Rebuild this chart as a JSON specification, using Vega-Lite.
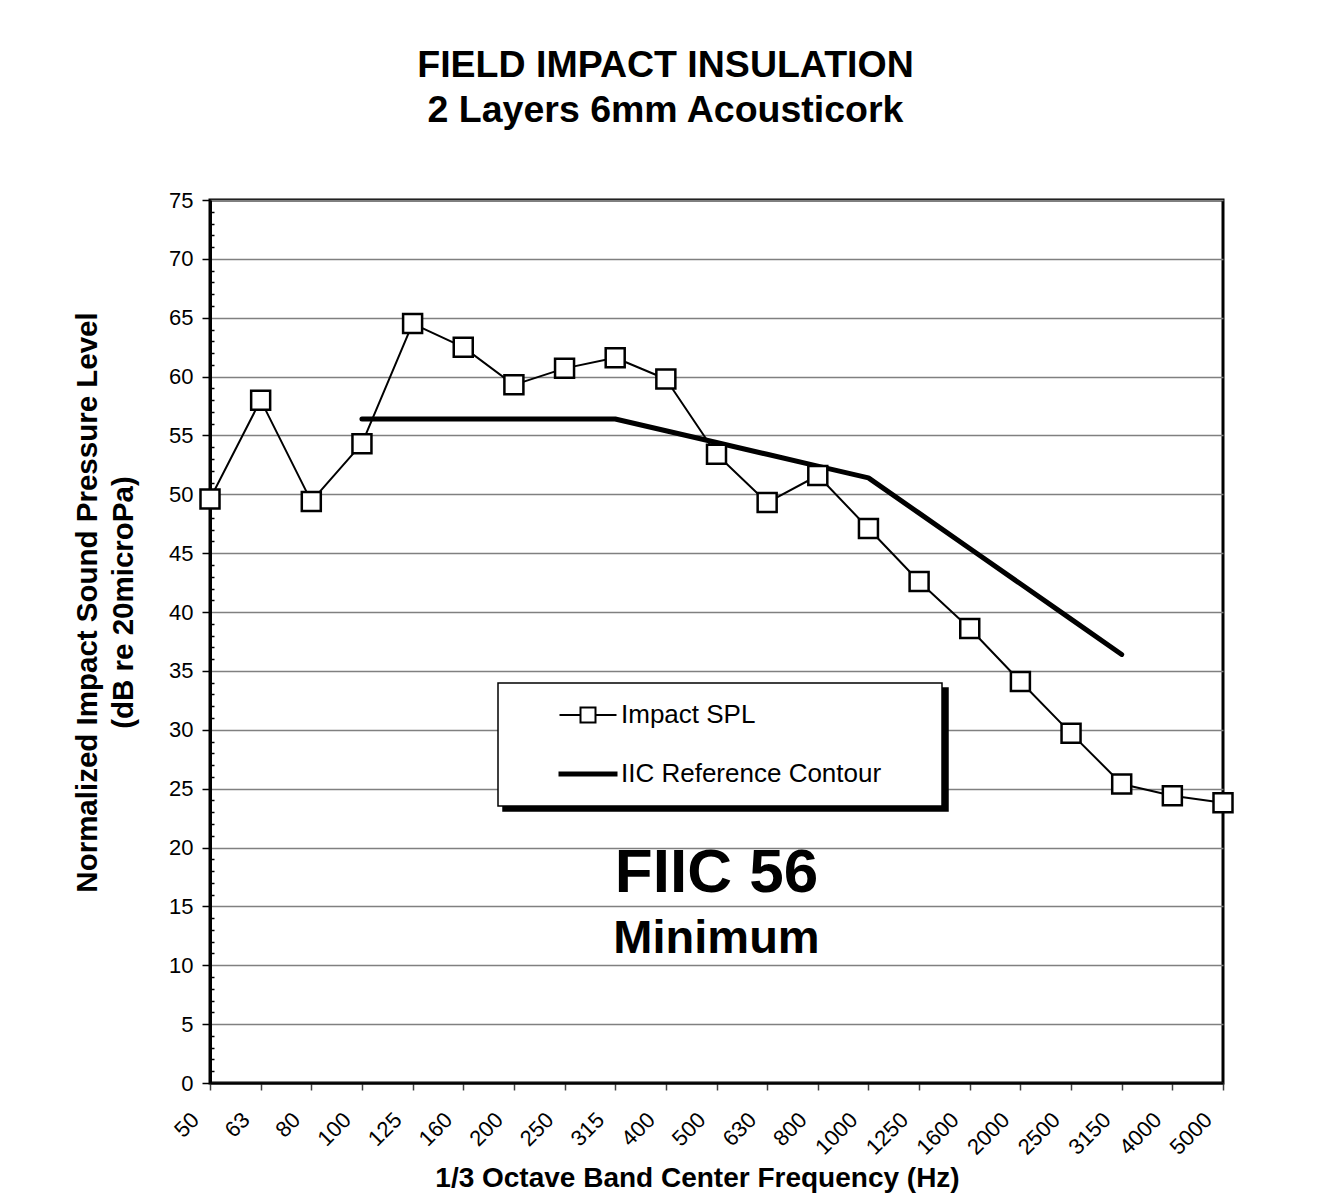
{
  "$schema": "https://vega.github.io/schema/vega-lite/v6.json",
  "width": 1013,
  "height": 883,
  "padding": {"left": 72, "top": 46, "right": 10, "bottom": 8},
  "background": "white",
  "title": {
    "text": ["FIELD IMPACT INSULATION", "2 Layers 6mm Acousticork"],
    "font": "Liberation Sans",
    "fontSize": 37.5,
    "fontWeight": "bold",
    "lineHeight": 45,
    "color": "black",
    "anchor": "middle",
    "frame": "group",
    "dx": -51,
    "offset": 60
  },
  "data": {
    "values": [
      {"f": "50", "series": "Impact SPL", "v": 49.6},
      {"f": "63", "series": "Impact SPL", "v": 58.0},
      {"f": "80", "series": "Impact SPL", "v": 49.4},
      {"f": "100", "series": "Impact SPL", "v": 54.3},
      {"f": "125", "series": "Impact SPL", "v": 64.5},
      {"f": "160", "series": "Impact SPL", "v": 62.5},
      {"f": "200", "series": "Impact SPL", "v": 59.3},
      {"f": "250", "series": "Impact SPL", "v": 60.7},
      {"f": "315", "series": "Impact SPL", "v": 61.6},
      {"f": "400", "series": "Impact SPL", "v": 59.8},
      {"f": "500", "series": "Impact SPL", "v": 53.4},
      {"f": "630", "series": "Impact SPL", "v": 49.3},
      {"f": "800", "series": "Impact SPL", "v": 51.6},
      {"f": "1000", "series": "Impact SPL", "v": 47.1},
      {"f": "1250", "series": "Impact SPL", "v": 42.6},
      {"f": "1600", "series": "Impact SPL", "v": 38.6},
      {"f": "2000", "series": "Impact SPL", "v": 34.1},
      {"f": "2500", "series": "Impact SPL", "v": 29.7},
      {"f": "3150", "series": "Impact SPL", "v": 25.4},
      {"f": "4000", "series": "Impact SPL", "v": 24.4},
      {"f": "5000", "series": "Impact SPL", "v": 23.8},
      {"f": "100", "series": "IIC Reference Contour", "v": 56.4},
      {"f": "125", "series": "IIC Reference Contour", "v": 56.4},
      {"f": "160", "series": "IIC Reference Contour", "v": 56.4},
      {"f": "200", "series": "IIC Reference Contour", "v": 56.4},
      {"f": "250", "series": "IIC Reference Contour", "v": 56.4},
      {"f": "315", "series": "IIC Reference Contour", "v": 56.4},
      {"f": "400", "series": "IIC Reference Contour", "v": 55.4},
      {"f": "500", "series": "IIC Reference Contour", "v": 54.4},
      {"f": "630", "series": "IIC Reference Contour", "v": 53.4},
      {"f": "800", "series": "IIC Reference Contour", "v": 52.4},
      {"f": "1000", "series": "IIC Reference Contour", "v": 51.4},
      {"f": "1250", "series": "IIC Reference Contour", "v": 48.4},
      {"f": "1600", "series": "IIC Reference Contour", "v": 45.4},
      {"f": "2000", "series": "IIC Reference Contour", "v": 42.4},
      {"f": "2500", "series": "IIC Reference Contour", "v": 39.4},
      {"f": "3150", "series": "IIC Reference Contour", "v": 36.4}
    ]
  },
  "encoding": {
    "x": {
      "field": "f",
      "type": "ordinal",
      "sort": null,
      "scale": {
        "type": "point",
        "padding": 0,
        "domain": ["50","63","80","100","125","160","200","250","315","400","500","630","800","1000","1250","1600","2000","2500","3150","4000","5000"]
      },
      "axis": {
        "title": "1/3 Octave Band Center Frequency (Hz)",
        "titleFontSize": 28,
        "titleFontWeight": "bold",
        "titlePadding": 6,
        "titleX": 487,
        "labelAngle": -45,
        "labelAlign": "right",
        "labelBaseline": "middle",
        "labelFontSize": 22,
        "labelPadding": 26,
        "labelOffset": -15,
        "tickSize": 7,
        "tickColor": "#404040",
        "tickWidth": 1.5,
        "domainColor": "black",
        "domainWidth": 2,
        "grid": false
      }
    },
    "y": {
      "field": "v",
      "type": "quantitative",
      "scale": {"domain": [0, 75], "nice": false, "zero": true},
      "axis": {
        "title": ["Normalized Impact Sound Pressure Level", "(dB re 20microPa)"],
        "titleFontSize": 29.5,
        "titleFontWeight": "bold",
        "titleLineHeight": 36,
        "titlePadding": 30,
        "titleY": 402,
        "values": [0,1,2,3,4,5,6,7,8,9,10,11,12,13,14,15,16,17,18,19,20,21,22,23,24,25,26,27,28,29,30,31,32,33,34,35,36,37,38,39,40,41,42,43,44,45,46,47,48,49,50,51,52,53,54,55,56,57,58,59,60,61,62,63,64,65,66,67,68,69,70,71,72,73,74,75],
        "labelExpr": "datum.value % 5 === 0 ? datum.label : ''",
        "labelFontSize": 22,
        "labelPadding": 9,
        "tickSize": {"condition": {"test": "datum.value % 5 === 0", "value": 8}, "value": -4},
        "tickColor": "black",
        "tickWidth": 1.5,
        "domainColor": "black",
        "domainWidth": 3,
        "grid": true,
        "gridColor": "#808080",
        "gridWidth": 1.5,
        "gridOpacity": {"condition": {"test": "datum.value % 5 === 0", "value": 1}, "value": 0}
      }
    }
  },
  "layer": [
    {
      "mark": {"type": "line", "strokeCap": "round", "strokeJoin": "round"},
      "encoding": {
        "color": {
          "field": "series",
          "type": "nominal",
          "scale": {"domain": ["Impact SPL", "IIC Reference Contour"], "range": ["black", "black"]},
          "legend": {
            "title": null,
            "orient": "none",
            "legendX": 288,
            "legendY": 483,
            "zindex": 3,
            "padding": 19,
            "rowPadding": 33,
            "fillColor": "white",
            "strokeColor": "black",
            "labelFont": "Liberation Sans",
            "labelFontSize": 26,
            "labelColor": "black",
            "labelLimit": 400,
            "symbolSize": 400,
            "symbolStrokeWidth": 2,
            "symbolStrokeColor": "black",
            "symbolOffset": 58,
            "labelOffset": 20,
            "symbolType": "M-2.85,0H2.85M33.1,0",
            "encode": {
              "legend": {"update": {"strokeWidth": {"value": 1.5}}},
              "symbols": {
                "update": {
                  "shape": [
                    {"test": "datum.value === 'IIC Reference Contour'", "value": "M-2.85,-0.15H2.85V0.15H-2.85ZM33.1,0"},
                    {"value": "M-2.85,0H-0.75M0.75,0H2.85M-0.75,-0.75H0.75V0.75H-0.75ZM33.1,0"}
                  ],
                  "fill": [
                    {"test": "datum.value === 'IIC Reference Contour'", "value": "black"},
                    {"value": "white"}
                  ],
                  "fillOpacity": {"value": 1},
                  "stroke": {"value": "black"}
                }
              }
            }
          }
        },
        "strokeWidth": {
          "field": "series",
          "type": "nominal",
          "scale": {"domain": ["IIC Reference Contour", "Impact SPL"], "range": [5, 2]},
          "legend": {
            "title": null,
            "orient": "none",
            "legendX": 293,
            "legendY": 488,
            "zindex": 2,
            "padding": 16.5,
            "rowPadding": 33,
            "fillColor": "black",
            "strokeColor": "black",
            "labelFont": "Liberation Sans",
            "labelFontSize": 26,
            "labelColor": "black",
            "labelExpr": "' '",
            "symbolSize": 400,
            "symbolStrokeWidth": 2,
            "symbolStrokeColor": "black",
            "symbolOffset": 58,
            "labelOffset": 20,
            "symbolType": "M-2.85,-0.75H2.85V0.75H-2.85ZM33.1,0",
            "encode": {
              "legend": {"update": {"strokeWidth": {"value": 1.5}}},
              "symbols": {
                "update": {
                  "shape": {"value": "M-2.85,-0.75H2.85V0.75H-2.85ZM33.1,0"},
                  "fill": {"value": "black"},
                  "fillOpacity": {"value": 1},
                  "stroke": {"value": "black"},
                  "strokeWidth": {"value": 2}
                }
              }
            }
          }
        }
      }
    },
    {
      "transform": [{"filter": "datum.series === 'Impact SPL'"}],
      "mark": {"type": "point", "shape": "square", "size": 361, "filled": true, "fill": "white", "stroke": "black", "strokeWidth": 2.5, "opacity": 1}
    },
    {
      "data": {"values": [{"f": "500", "v": 16.2, "t": "FIIC 56"}]},
      "mark": {"type": "text", "font": "Liberation Sans", "fontSize": 62, "fontWeight": "bold", "baseline": "alphabetic", "align": "center", "color": "black"},
      "encoding": {"text": {"field": "t"}}
    },
    {
      "data": {"values": [{"f": "500", "v": 11.0, "t": "Minimum"}]},
      "mark": {"type": "text", "font": "Liberation Sans", "fontSize": 47, "fontWeight": "bold", "baseline": "alphabetic", "align": "center", "color": "black"},
      "encoding": {"text": {"field": "t"}}
    }
  ],
  "config": {
    "font": "Liberation Sans",
    "view": {"stroke": "black", "strokeWidth": 3},
    "axis": {"labelColor": "black", "titleColor": "black", "labelFont": "Liberation Sans", "titleFont": "Liberation Sans"}
  }
}
